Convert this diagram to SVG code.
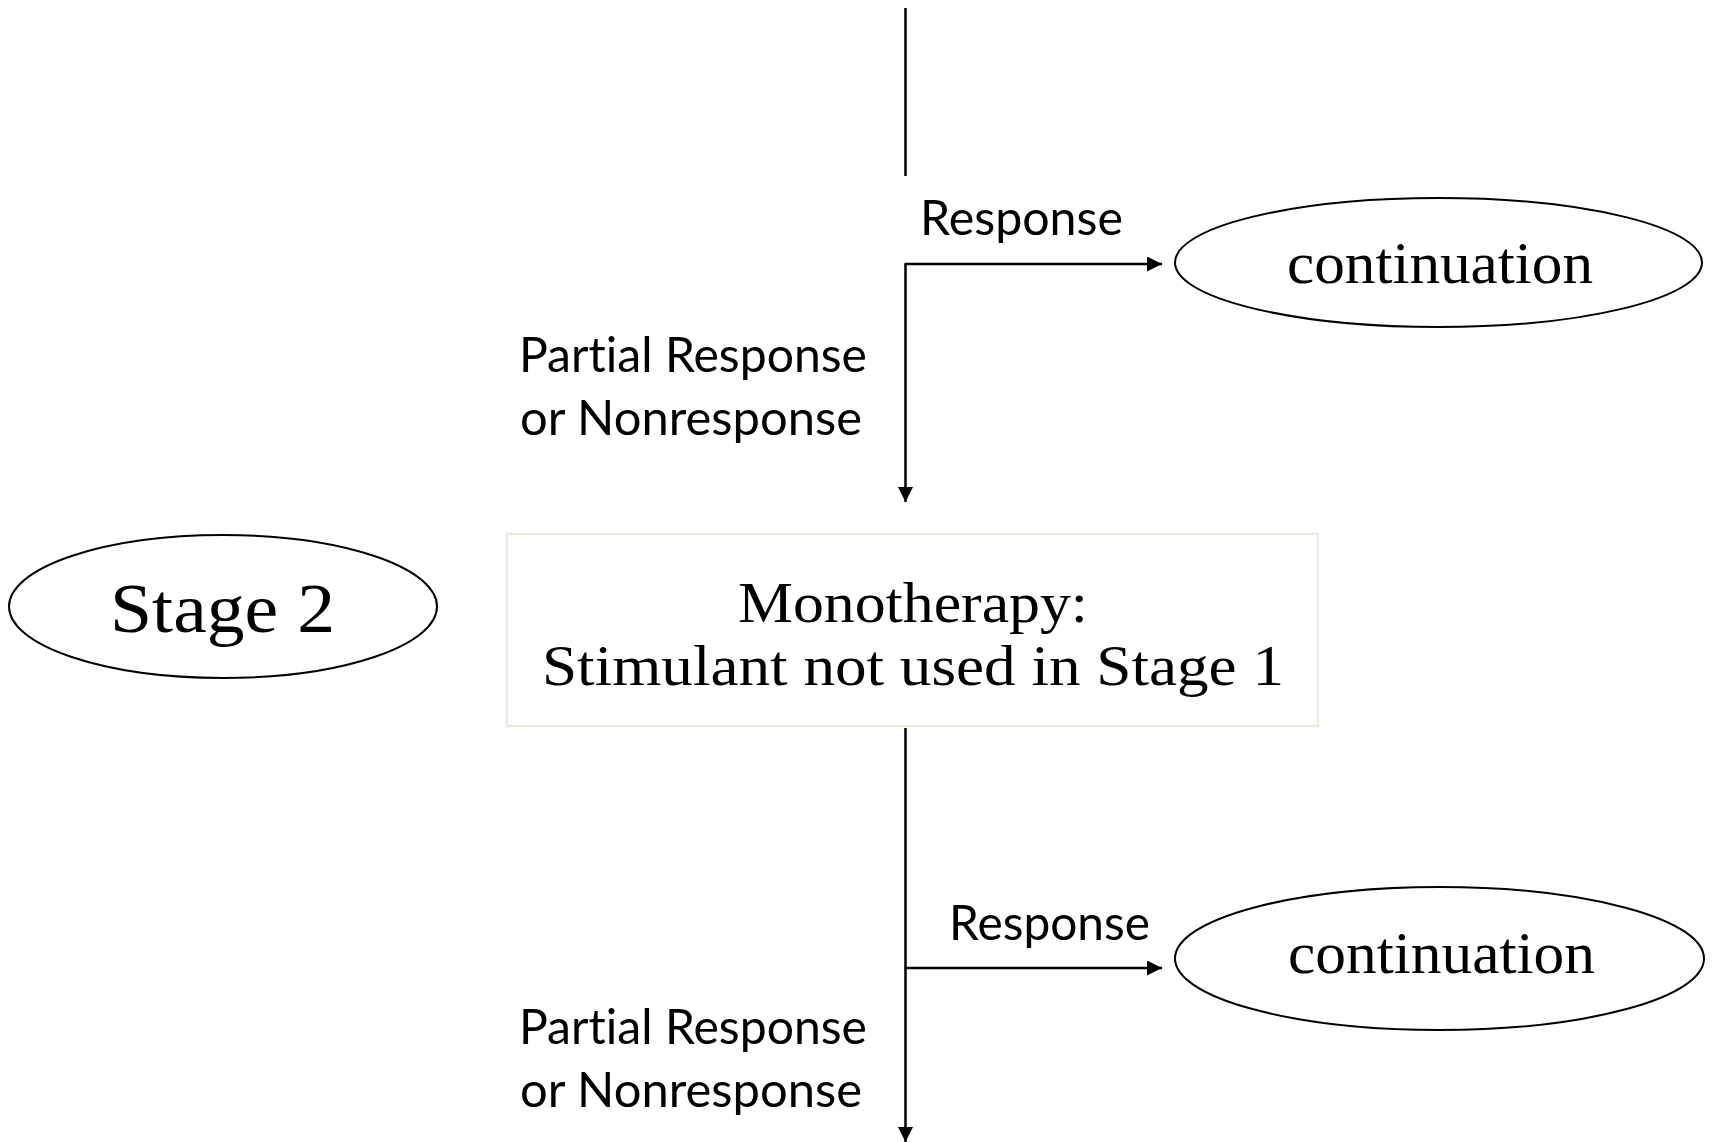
<svg xmlns="http://www.w3.org/2000/svg" width="1714" height="1142" viewBox="0 0 1714 1142">
  <defs>
    <marker id="arrow" viewBox="0 0 15 15" refX="15" refY="7.5" markerWidth="15" markerHeight="15" markerUnits="userSpaceOnUse" orient="auto">
      <path d="M0,0 L15,7.5 L0,15 Z" fill="#000"/>
    </marker>
    <style>
      .conn { fill: none; stroke: #000; stroke-width: 2.5; }
      .oval { fill: #fff; stroke: #000; stroke-width: 2; }
      .box { fill: #fff; stroke: #ebeae0; stroke-width: 2.5; }
      .sans { font-family: Lato, "Open Sans", "Liberation Sans", sans-serif; font-size: 49px; fill: #000; font-variant-ligatures: none; font-feature-settings: "liga" 0, "clig" 0; }
      .serif { font-family: "Liberation Serif", "DejaVu Serif", serif; fill: #000; font-variant-ligatures: none; }
    </style>
  </defs>
  <rect width="1714" height="1142" fill="#fff"/>

  <g id="connectors">
    <path class="conn" d="M905.5,8 L905.5,176"/>
    <path class="conn" d="M905.5,264 L905.5,502" marker-end="url(#arrow)"/>
    <path class="conn" d="M904.5,264 L1162,264" marker-end="url(#arrow)"/>
    <path class="conn" d="M905.5,728 L905.5,1142" marker-end="url(#arrow)"/>
    <path class="conn" d="M904.5,968 L1162,968" marker-end="url(#arrow)"/>
    <text class="sans" x="920" y="235" textLength="203" lengthAdjust="spacingAndGlyphs">Response</text>
    <text class="sans" x="519" y="372" textLength="348" lengthAdjust="spacingAndGlyphs">Partial Response</text>
    <text class="sans" x="520" y="435" textLength="342" lengthAdjust="spacingAndGlyphs">or Nonresponse</text>
    <text class="sans" x="949" y="940" textLength="201" lengthAdjust="spacingAndGlyphs">Response</text>
    <text class="sans" x="519" y="1044" textLength="348" lengthAdjust="spacingAndGlyphs">Partial Response</text>
    <text class="sans" x="520" y="1107" textLength="342" lengthAdjust="spacingAndGlyphs">or Nonresponse</text>
  </g>

  <g id="continuation-top">
    <ellipse class="oval" cx="1438.5" cy="262.5" rx="263.5" ry="64.5"/>
    <text class="serif" x="1287" y="283" font-size="60" textLength="306" lengthAdjust="spacingAndGlyphs">continuation</text>
  </g>

  <g id="stage2">
    <ellipse class="oval" cx="223" cy="606.5" rx="214" ry="71.5"/>
    <text class="serif" x="110" y="632" font-size="70" textLength="225" lengthAdjust="spacingAndGlyphs">Stage 2</text>
  </g>

  <g id="monotherapy">
    <rect class="box" x="507" y="534" width="811" height="192"/>
    <text class="serif" x="738" y="622" font-size="58" textLength="350" lengthAdjust="spacingAndGlyphs">Monotherapy:</text>
    <text class="serif" x="542" y="685" font-size="58" textLength="742" lengthAdjust="spacingAndGlyphs">Stimulant not used in Stage 1</text>
  </g>

  <g id="continuation-bottom">
    <ellipse class="oval" cx="1439.5" cy="958.5" rx="264.5" ry="71.5"/>
    <text class="serif" x="1288" y="973" font-size="60" textLength="307" lengthAdjust="spacingAndGlyphs">continuation</text>
  </g>
</svg>
